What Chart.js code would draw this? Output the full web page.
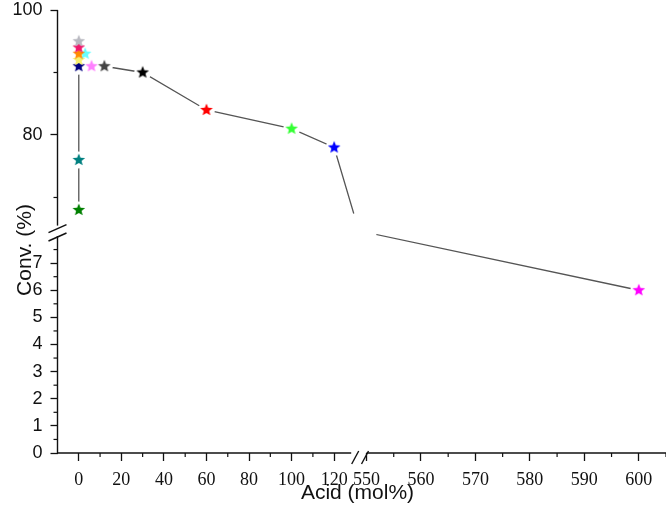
<!DOCTYPE html>
<html>
<head>
<meta charset="utf-8">
<script src="https://cdn.jsdelivr.net/npm/chart.js"></script>
<style>
    html, body { margin: 0; padding: 0; background: #fff; }
    #wrap { width: 666px; height: 511px; }
</style>
</head>
<body>
<div id="wrap"><canvas id="chart"></canvas></div>
<script>
// star markers: acid loading (mol%) and conversion (%)
const acid = [0, 0, 0, 0, 3, 0, 0, 0, 6, 12, 30, 60, 100, 120, 600];
const conv = [68, 76, 91, 92, 93, 93, 94, 95, 91, 91, 90, 84, 81, 78, 6];
const starColors = ["#008000", "#008080", "#000080", "#f8f070", "#66ffff", "#ff8c00", "#f0186c", "#b8b8c0",
    "#ff80ff", "#444444", "#000000", "#ff0000", "#33ff33", "#0000ff", "#ff00ff"];

// the two connected curves
const vertAcid = [0, 0, 0];
const vertConv = [68, 76, 91];
const trendAcid = [12, 30, 60, 100, 120, 600];
const trendConv = [91, 90, 84, 81, 78, 6];

// ticks
const xMajor = [0, 20, 40, 60, 80, 100, 120, 550, 560, 570, 580, 590, 600];
const xMinor = [10, 30, 50, 70, 90, 110, 555, 565, 575, 585, 595, 605];
const yMajor = [0, 1, 2, 3, 4, 5, 6, 7, 80, 100];
const yMinor = [0.5, 1.5, 2.5, 3.5, 4.5, 5.5, 6.5, 7.5, 70, 90];

// axis breaks
const xBreak = { from: 128, to: 550 };
const yBreak = { from: 8, to: 65.5 };
// value -> pixels from the start of the axis (left / bottom)
const axisPx = {
    x: [[-10, 0], [xBreak.from, 293.7], [xBreak.to, 309], [605, 608.5]],
    y: [[0, 0], [yBreak.from, 217], [yBreak.to, 227.4], [100, 443]],
};

class BrokenScale extends Chart.LinearScale {
    static id = "broken";
    static defaults = Chart.LinearScale.defaults;

    toOffset(v) {
        const k = axisPx[this.id];
        let i = 1;
        while (i < k.length - 1 && v > k[i][0]) i++;
        const [v0, p0] = k[i - 1], [v1, p1] = k[i];
        return p0 + (v - v0) / (v1 - v0) * (p1 - p0);
    }
    getPixelForValue(value) {
        if (value === null || value === undefined) return NaN;
        const off = this.toOffset(value);
        return this.isHorizontal() ? this.left + off : this.bottom - off;
    }
    getValueForPixel(pixel) {
        const off = this.isHorizontal() ? pixel - this.left : this.bottom - pixel;
        const k = axisPx[this.id];
        let i = 1;
        while (i < k.length - 1 && off > k[i][1]) i++;
        const [v0, p0] = k[i - 1], [v1, p1] = k[i];
        return v0 + (off - p0) / (p1 - p0) * (v1 - v0);
    }
}
Chart.register(BrokenScale);

function makeStar(color) {
    const c = document.createElement("canvas");
    c.width = 16;
    c.height = 16;
    const g = c.getContext("2d");
    g.beginPath();
    for (let i = 0; i < 10; i++) {
        const r = i % 2 ? 2.9 : 6.6;
        const a = -Math.PI / 2 + i * Math.PI / 5;
        g.lineTo(8 + r * Math.cos(a), 8 + r * Math.sin(a));
    }
    g.closePath();
    g.fillStyle = color;
    g.fill();
    return c;
}

// lines that cross both breaks pass through the break corner
function throughBreaks(xs, ys) {
    const pts = [];
    xs.forEach((x, i) => {
        if (i > 0 && xs[i - 1] <= xBreak.from && x >= xBreak.to) {
            pts.push({ x: (xBreak.from + xBreak.to) / 2, y: (yBreak.from + yBreak.to) / 2 });
        }
        pts.push({ x: x, y: ys[i] });
    });
    return pts;
}

const sans = "'Liberation Sans', Arial, sans-serif";
const serif = "'Liberation Serif', 'Times New Roman', serif";

const brokenAxes = {
    id: "brokenAxes",
    afterDatasetsDraw(chart) {
        const { ctx, scales: { x, y } } = chart;
        const cx = x.getPixelForValue((xBreak.from + xBreak.to) / 2);
        const cy = y.getPixelForValue((yBreak.from + yBreak.to) / 2);
        ctx.save();
        ctx.fillStyle = "#fff";
        ctx.beginPath();
        ctx.arc(cx, cy, 18, 0, Math.PI * 2);
        ctx.fill();
        ctx.restore();
    },
    afterDraw(chart) {
        const { ctx, chartArea: a, scales: { x, y } } = chart;
        ctx.save();
        ctx.strokeStyle = "#111";
        ctx.lineWidth = 1.4;
        ctx.lineCap = "butt";
        const seg = (x1, y1, x2, y2) => {
            ctx.beginPath();
            ctx.moveTo(x1, y1);
            ctx.lineTo(x2, y2);
            ctx.stroke();
        };
        // x axis
        const xe = x.getPixelForValue(xBreak.from);
        const xs = x.getPixelForValue(xBreak.to);
        seg(a.left, a.bottom, xe, a.bottom);
        seg(xs, a.bottom, x.getPixelForValue(605), a.bottom);
        seg(xe + 4 - 3.5, a.bottom + 11, xe + 4 + 3.5, a.bottom - 2);
        seg(xs - 1.5 - 3.5, a.bottom + 11, xs - 1.5 + 3.5, a.bottom - 2);
        // y axis
        const ye = y.getPixelForValue(yBreak.to);
        const ys = y.getPixelForValue(yBreak.from);
        seg(a.left, y.getPixelForValue(100), a.left, ye);
        seg(a.left, ys, a.left, a.bottom);
        seg(a.left - 9, ye + 7, a.left + 9, ye - 1);
        seg(a.left - 9, ys + 5, a.left + 9, ys - 3);
        // minor ticks
        ctx.lineWidth = 1.2;
        xMinor.forEach(v => {
            const p = x.getPixelForValue(v);
            seg(p, a.bottom, p, a.bottom + 4);
        });
        yMinor.forEach(v => {
            const p = y.getPixelForValue(v);
            seg(a.left, p, a.left - 4, p);
        });
        // y title
        ctx.translate(25, 250);
        ctx.rotate(-Math.PI / 2);
        ctx.fillStyle = "#111";
        ctx.font = "21px " + sans;
        ctx.textAlign = "center";
        ctx.textBaseline = "middle";
        ctx.fillText("Conv. (%)", 0, 0);
        ctx.restore();
    },
};

const markers = acid.map((v, i) => ({ x: v, y: conv[i] }));

new Chart(document.getElementById("chart"), {
    type: "scatter",
    data: {
        datasets: [
            {
                // colored stars
                data: markers,
                pointStyle: starColors.map(makeStar),
                pointRadius: 6,
                order: 1,
            },
            {
                // white gap around each symbol
                data: markers,
                pointStyle: "circle",
                pointRadius: 8.5,
                pointBackgroundColor: "#fff",
                pointBorderWidth: 0,
                order: 2,
            },
            {
                data: vertAcid.map((v, i) => ({ x: v, y: vertConv[i] })),
                showLine: true,
                borderColor: "#555",
                borderWidth: 1.3,
                pointRadius: 0,
                order: 3,
            },
            {
                data: throughBreaks(trendAcid, trendConv),
                showLine: true,
                borderColor: "#555",
                borderWidth: 1.3,
                pointRadius: 0,
                order: 3,
            },
        ],
    },
    options: {
        responsive: true,
        maintainAspectRatio: false,
        animation: false,
        events: [],
        layout: { padding: 0 },
        plugins: {
            legend: { display: false },
            tooltip: { enabled: false },
        },
        scales: {
            x: {
                type: "broken",
                min: -10,
                max: 605,
                afterBuildTicks: s => { s.ticks = xMajor.map(v => ({ value: v })); },
                afterFit: s => {
                    s.height = 58;
                    s.paddingLeft = 0;
                    s.paddingRight = 0;
                },
                border: { display: false },
                grid: {
                    drawOnChartArea: false,
                    tickLength: 8,
                    tickColor: "#111",
                    tickWidth: 1.3,
                },
                ticks: {
                    autoSkip: false,
                    maxRotation: 0,
                    padding: 8,
                    color: "#111",
                    font: { family: serif, size: 18 },
                    callback: v => String(v),
                },
                title: {
                    display: true,
                    text: "Acid (mol%)",
                    color: "#111",
                    font: { family: sans, size: 21 },
                    padding: { top: 0, bottom: 5 },
                },
            },
            y: {
                type: "broken",
                min: 0,
                max: 100,
                afterBuildTicks: s => { s.ticks = yMajor.map(v => ({ value: v })); },
                afterFit: s => {
                    s.width = 57.5;
                    s.paddingTop = 10;
                    s.paddingBottom = 0;
                },
                border: { display: false },
                grid: {
                    drawOnChartArea: false,
                    tickLength: 7,
                    tickColor: "#111",
                    tickWidth: 1.3,
                },
                ticks: {
                    autoSkip: false,
                    padding: 8,
                    color: "#111",
                    font: { family: sans, size: 18 },
                    callback: v => String(v),
                },
            },
        },
    },
    plugins: [brokenAxes],
});
</script>
</body>
</html>
